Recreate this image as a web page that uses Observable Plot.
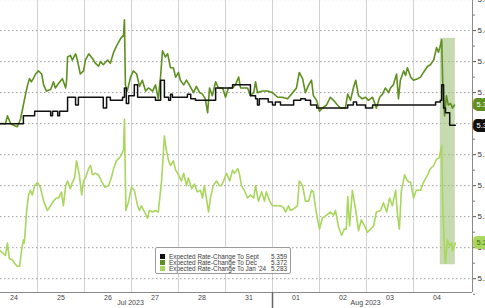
<!DOCTYPE html>
<html>
<head>
<meta charset="utf-8">
<script src="https://cdn.jsdelivr.net/npm/d3@7"></script>
<script src="https://cdn.jsdelivr.net/npm/@observablehq/plot@0.6"></script>
<style>
  html, body { margin: 0; padding: 0; background: #fff; }
  #wrap { position: relative; width: 485px; height: 308px; overflow: hidden; font-family: "Liberation Sans", Arial, sans-serif; }
  #legend { position: absolute; left: 155px; top: 247px; width: 134px; height: 25px; border: 1px solid #9a9a9a; border-radius: 2px; background: rgba(255,255,255,0.95); box-sizing: content-box; }
  .row { position: absolute; left: 4px; right: 3px; height: 6px; font-size: 6.4px; line-height: 6px; color: #3a3a3a; white-space: nowrap; }
  .sw { position: absolute; left: 0; top: 0.5px; width: 5px; height: 5px; }
  .lab { position: absolute; left: 9px; top: 0; }
  .val { position: absolute; right: 0; top: 0; }
</style>
</head>
<body>
<div id="wrap"></div>
<script>
// x = trading-session position: 0 = start of Jul 24, 1 = start of Jul 25, ...
const dayLabels = ["24", "25", "26", "27", "28", "31", "01", "02", "03", "04"];
const monthLabels = [{t: 2.98, label: "Jul 2023"}, {t: 7.98, label: "Aug 2023"}];
const monthBreak = [6];
const yTicks = [5.26, 5.28, 5.30, 5.32, 5.34, 5.36, 5.38, 5.40, 5.42, 5.44];
const yMinor = [5.25, 5.27, 5.29, 5.31, 5.33, 5.35, 5.37, 5.39, 5.41, 5.43];
const seriesNames = ["Expected Rate-Change To Sept", "Expected Rate-Change To Dec", "Expected Rate-Change To Jan '24"];
const lastValues = [5.359, 5.372, 5.283];
const seriesColors = ["#111111", "#5e8f1f", "#a9d65c"];
const highlight = [{t1: 9.57, t2: 9.89, v1: 5.269, v2: 5.415}];

const sept = [
  [0.21,5.360],[0.70,5.365],[0.94,5.368],[1.28,5.365],[1.32,5.368],[1.43,5.365],[1.47,5.368],
  [1.64,5.377],[1.81,5.372],[1.87,5.377],[2.40,5.370],[2.47,5.377],[2.55,5.375],[2.81,5.377],
  [2.85,5.383],[2.89,5.373],[2.94,5.378],[3.06,5.385],[3.13,5.377],[3.51,5.375],[3.62,5.388],
  [3.70,5.377],[3.79,5.375],[3.83,5.379],[3.87,5.377],[4.19,5.379],[4.26,5.376],[4.36,5.375],
  [4.79,5.383],[5.15,5.385],[5.53,5.378],[5.64,5.376],[5.68,5.372],[5.72,5.376],[5.91,5.374],
  [6.00,5.372],[6.06,5.374],[6.17,5.372],[6.45,5.375],[6.60,5.376],[6.70,5.375],[6.81,5.372],
  [6.94,5.370],[7.60,5.372],[7.72,5.374],[7.79,5.372],[7.98,5.370],[8.13,5.372],[9.47,5.374],
  [9.57,5.375],[9.60,5.385],[9.64,5.370],[9.68,5.367],[9.77,5.359],[9.89,5.359]
];

const dec = [
  [0.21,5.360],[0.32,5.360],[0.36,5.365],[0.43,5.360],[0.49,5.359],[0.57,5.358],[0.64,5.363],
  [0.70,5.372],[0.74,5.378],[0.79,5.385],[0.83,5.389],[0.87,5.387],[0.91,5.389],[0.96,5.392],
  [1.02,5.394],[1.09,5.392],[1.13,5.385],[1.19,5.381],[1.28,5.382],[1.34,5.387],[1.38,5.383],
  [1.45,5.386],[1.53,5.389],[1.60,5.383],[1.62,5.388],[1.64,5.403],[1.70,5.404],[1.74,5.401],
  [1.81,5.405],[1.85,5.401],[1.91,5.392],[1.98,5.394],[2.02,5.401],[2.09,5.405],[2.17,5.402],
  [2.23,5.399],[2.30,5.397],[2.34,5.400],[2.40,5.398],[2.49,5.401],[2.55,5.399],[2.62,5.406],
  [2.68,5.410],[2.77,5.415],[2.83,5.417],[2.85,5.427],[2.87,5.385],[2.91,5.381],[2.98,5.390],
  [3.04,5.394],[3.11,5.392],[3.17,5.384],[3.23,5.388],[3.30,5.381],[3.36,5.383],[3.45,5.381],
  [3.51,5.385],[3.57,5.376],[3.62,5.391],[3.66,5.407],[3.72,5.403],[3.77,5.405],[3.83,5.396],
  [3.89,5.396],[3.94,5.390],[4.00,5.393],[4.04,5.388],[4.11,5.385],[4.17,5.388],[4.23,5.385],
  [4.32,5.380],[4.38,5.384],[4.45,5.380],[4.51,5.379],[4.57,5.376],[4.62,5.367],[4.66,5.383],
  [4.72,5.378],[4.79,5.387],[4.85,5.383],[4.94,5.383],[5.00,5.377],[5.06,5.383],[5.15,5.383],
  [5.21,5.385],[5.28,5.390],[5.32,5.383],[5.38,5.383],[5.47,5.383],[5.53,5.378],[5.60,5.380],
  [5.64,5.387],[5.68,5.380],[5.79,5.381],[5.89,5.381],[6.00,5.380],[6.11,5.377],[6.21,5.377],
  [6.32,5.376],[6.43,5.380],[6.51,5.383],[6.57,5.393],[6.64,5.389],[6.70,5.380],[6.77,5.385],
  [6.83,5.388],[6.87,5.378],[6.94,5.375],[7.00,5.368],[7.06,5.370],[7.15,5.372],[7.23,5.377],
  [7.30,5.375],[7.38,5.372],[7.45,5.370],[7.55,5.370],[7.60,5.379],[7.66,5.375],[7.72,5.383],
  [7.77,5.388],[7.83,5.378],[7.91,5.376],[7.98,5.377],[8.04,5.375],[8.13,5.377],[8.21,5.370],
  [8.28,5.377],[8.34,5.379],[8.40,5.383],[8.47,5.380],[8.51,5.383],[8.57,5.385],[8.64,5.392],
  [8.68,5.376],[8.72,5.388],[8.79,5.394],[8.83,5.391],[8.87,5.396],[8.94,5.390],[9.00,5.388],
  [9.09,5.389],[9.15,5.390],[9.21,5.393],[9.30,5.397],[9.36,5.398],[9.43,5.401],[9.49,5.409],
  [9.53,5.406],[9.57,5.410],[9.60,5.414],[9.62,5.388],[9.66,5.365],[9.70,5.378],[9.74,5.372],
  [9.79,5.373],[9.83,5.370],[9.87,5.372]
];

const jan = [
  [0.21,5.278],[0.28,5.276],[0.32,5.275],[0.36,5.283],[0.40,5.273],[0.47,5.272],[0.51,5.270],
  [0.57,5.268],[0.62,5.268],[0.66,5.278],[0.70,5.285],[0.72,5.283],[0.77,5.304],[0.81,5.314],
  [0.85,5.317],[0.89,5.314],[0.94,5.320],[1.00,5.322],[1.06,5.319],[1.13,5.310],[1.21,5.304],
  [1.28,5.307],[1.34,5.310],[1.40,5.312],[1.45,5.312],[1.51,5.316],[1.55,5.307],[1.60,5.320],
  [1.64,5.323],[1.70,5.318],[1.74,5.322],[1.79,5.325],[1.83,5.336],[1.89,5.327],[1.94,5.314],
  [1.98,5.323],[2.02,5.325],[2.09,5.331],[2.13,5.333],[2.17,5.327],[2.23,5.328],[2.30,5.327],
  [2.36,5.323],[2.43,5.319],[2.51,5.320],[2.57,5.325],[2.62,5.331],[2.68,5.336],[2.77,5.339],
  [2.83,5.343],[2.85,5.363],[2.88,5.304],[2.94,5.310],[3.00,5.319],[3.06,5.317],[3.13,5.307],
  [3.17,5.304],[3.21,5.307],[3.28,5.303],[3.34,5.299],[3.38,5.304],[3.45,5.303],[3.51,5.304],
  [3.57,5.303],[3.64,5.323],[3.70,5.352],[3.74,5.343],[3.79,5.336],[3.83,5.333],[3.89,5.336],
  [3.94,5.330],[4.00,5.327],[4.06,5.323],[4.11,5.328],[4.17,5.320],[4.21,5.325],[4.28,5.318],
  [4.34,5.321],[4.40,5.316],[4.47,5.317],[4.51,5.312],[4.55,5.320],[4.62,5.307],[4.64,5.303],
  [4.68,5.312],[4.74,5.320],[4.81,5.323],[4.87,5.320],[4.91,5.320],[4.96,5.323],[5.02,5.328],
  [5.09,5.323],[5.15,5.330],[5.19,5.328],[5.26,5.331],[5.30,5.327],[5.34,5.320],[5.40,5.317],
  [5.47,5.312],[5.53,5.314],[5.60,5.312],[5.64,5.320],[5.70,5.310],[5.77,5.316],[5.83,5.310],
  [5.87,5.316],[5.94,5.310],[6.00,5.307],[6.17,5.307],[6.23,5.306],[6.28,5.303],[6.34,5.307],
  [6.38,5.304],[6.45,5.305],[6.53,5.307],[6.57,5.323],[6.64,5.320],[6.70,5.310],[6.77,5.310],
  [6.83,5.317],[6.87,5.316],[6.91,5.307],[6.96,5.298],[7.00,5.292],[7.06,5.299],[7.15,5.301],
  [7.23,5.303],[7.30,5.301],[7.34,5.304],[7.40,5.294],[7.47,5.288],[7.53,5.292],[7.57,5.292],
  [7.60,5.313],[7.64,5.294],[7.70,5.317],[7.77,5.304],[7.83,5.291],[7.89,5.298],[7.96,5.294],
  [8.02,5.290],[8.09,5.292],[8.15,5.294],[8.21,5.303],[8.30,5.304],[8.36,5.309],[8.43,5.303],
  [8.49,5.312],[8.55,5.307],[8.62,5.317],[8.66,5.301],[8.70,5.292],[8.74,5.316],[8.81,5.327],
  [8.87,5.323],[8.94,5.322],[9.00,5.312],[9.06,5.317],[9.15,5.317],[9.21,5.322],[9.30,5.327],
  [9.36,5.331],[9.43,5.333],[9.49,5.337],[9.55,5.338],[9.60,5.346],[9.62,5.310],[9.66,5.278],
  [9.68,5.270],[9.72,5.285],[9.77,5.281],[9.81,5.283],[9.83,5.278],[9.87,5.281],[9.89,5.283]
];

const xDomain = [0.213, 10.255];
const yDomain = [5.2511, 5.4394];
const dayCenters = dayLabels.map((d, i) => i + 0.5);
const dayBounds = d3.range(1, dayLabels.length);

const toRows = arr => arr.map(([t, v]) => ({t, v}));
const lastRows = lastValues.map((v, i) => ({v, label: v.toFixed(3), i}));
const labelFill = ["#ffffff", "#ffffff", "#3f6e10"];
const labelBg = ["#111111", "#5e8f1f", "#a9d65c"];

const chart = Plot.plot({
  width: 485,
  height: 308,
  marginLeft: 0,
  marginRight: 13,
  marginTop: 0,
  marginBottom: 16,
  style: {fontFamily: "Liberation Sans, Arial, sans-serif", background: "#fff", overflow: "visible"},
  x: {domain: xDomain, axis: null},
  y: {domain: yDomain, axis: null},
  marks: [
    Plot.ruleX(dayBounds, {stroke: "#d2d2d2", strokeWidth: 1}),
    Plot.ruleY(yTicks, {stroke: "#a0a0a0", strokeWidth: 1, strokeDasharray: "1.5,2.5"}),
    Plot.rect(highlight, {x1: "t1", x2: "t2", y1: "v1", y2: "v2", fill: "#9fc37a", fillOpacity: 0.6}),
    Plot.line(toRows(jan), {x: "t", y: "v", stroke: seriesColors[2], strokeWidth: 1.6}),
    Plot.line(toRows(dec), {x: "t", y: "v", stroke: seriesColors[1], strokeWidth: 1.6}),
    Plot.line(toRows(sept), {x: "t", y: "v", stroke: seriesColors[0], strokeWidth: 1.5, curve: "step-after"}),
    Plot.ruleX([xDomain[1]], {stroke: "#8a8a8a", strokeWidth: 1}),
    Plot.ruleY([yDomain[0]], {stroke: "#8a8a8a", strokeWidth: 1}),
    Plot.axisY(yTicks, {anchor: "right", tickSize: 3, tickPadding: 2, tickFormat: d3.format(".2f"), fontSize: 8, fill: "#333", stroke: "#555"}),
    Plot.axisY(yMinor, {anchor: "right", tickSize: 2, text: null, stroke: "#777"}),
    Plot.axisX(dayCenters, {anchor: "bottom", tickSize: 0, tickPadding: 3, tickFormat: (d, i) => dayLabels[i], fontSize: 7, fill: "#444"}),
    Plot.axisX(monthBreak, {anchor: "bottom", tickSize: 17, text: null, stroke: "#666", strokeWidth: 1.5}),
    Plot.text(monthLabels, {x: "t", text: "label", frameAnchor: "bottom", dy: 12, fontSize: 7, fill: "#444"}),
    Plot.text(lastRows, {frameAnchor: "right", y: "v", text: "label", dx: 4, textAnchor: "start", fontSize: 7.5,
      fill: (d) => labelFill[d.i], stroke: (d) => labelBg[d.i], strokeWidth: 8, strokeLinejoin: "round", paintOrder: "stroke"})
  ]
});

const wrap = document.getElementById("wrap");
wrap.appendChild(chart);

const legend = document.createElement("div");
legend.id = "legend";
seriesNames.forEach((name, i) => {
  const row = document.createElement("div");
  row.className = "row";
  row.style.top = (5.5 + i * 6) + "px";
  row.innerHTML = `<span class="sw" style="background:${seriesColors[i]}"></span><span class="lab">${name}</span><span class="val">${lastValues[i].toFixed(3)}</span>`;
  legend.appendChild(row);
});
wrap.appendChild(legend);
</script>
</body>
</html>
